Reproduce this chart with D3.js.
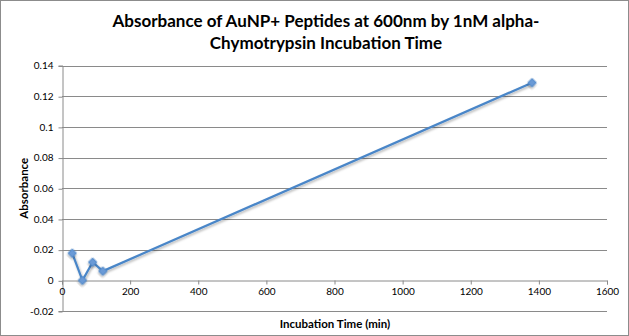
<!DOCTYPE html>
<html><head><meta charset="utf-8">
<script src="https://cdn.jsdelivr.net/npm/d3@7"></script>
<style>body{margin:0;background:#fff;} svg{display:block;}</style>
</head><body>
<svg id="c" width="629" height="336"></svg>
<script>
const incubationTime = [30, 60, 90, 120, 1380];
const absorbance = [0.0177, 0.0, 0.0118, 0.006, 0.1288];
const xTicks = [0, 200, 400, 600, 800, 1000, 1200, 1400, 1600];
const yTicks = [-0.02, 0, 0.02, 0.04, 0.06, 0.08, 0.1, 0.12, 0.14];
const titleLines = ["Absorbance of AuNP+ Peptides at 600nm by 1nM alpha-", "Chymotrypsin Incubation Time"];
const xTitle = "Incubation Time (min)";
const yTitle = "Absorbance";

const svg = d3.select("#c");
const font = "Lato, 'Open Sans', sans-serif";
const m = {left: 62, right: 607, top: 65.5, bottom: 311};
const x = d3.scaleLinear().domain([0, 1600]).range([m.left, m.right]);
const y = d3.scaleLinear().domain([-0.02, 0.14]).range([m.bottom, m.top]);

svg.append("rect").attr("x",0.5).attr("y",0.5).attr("width",628).attr("height",335)
  .attr("fill","#fff").attr("stroke","#8c8c8c");

// gridlines
svg.append("g").selectAll("line").data(yTicks.filter(d=>d!==0)).join("line")
  .attr("x1", m.left).attr("x2", m.right)
  .attr("y1", d=>Math.round(y(d))+0.5).attr("y2", d=>Math.round(y(d))+0.5)
  .attr("stroke","#8a8a8a").attr("stroke-width",1);

// y axis
const yAxis = d3.axisLeft(y).tickValues(yTicks).tickSize(4).tickPadding(5)
  .tickFormat(d => d===0 ? "0" : String(+d.toFixed(2)));
const gy = svg.append("g").attr("transform", `translate(${m.left+0.5},0)`).call(yAxis);
gy.select(".domain").attr("stroke","#8a8a8a");
gy.selectAll(".tick line").attr("stroke","#8a8a8a").attr("transform","translate(0,0.5)");
gy.selectAll(".tick text").attr("font-family",font).attr("font-size",10).attr("fill","#000");

// x axis at y=0
const xAxis = d3.axisBottom(x).tickValues(xTicks).tickSize(4).tickPadding(3).tickFormat(d3.format("d"));
const gx = svg.append("g").attr("transform", `translate(0,${Math.round(y(0))+0.5})`).call(xAxis);
gx.select(".domain").attr("stroke","#8a8a8a");
gx.selectAll(".tick line").attr("stroke","#8a8a8a");
gx.selectAll(".tick text").attr("font-family",font).attr("font-size",10).attr("fill","#000");

// title
svg.append("g").selectAll("text").data(titleLines).join("text")
  .attr("x", 326).attr("y", (d,i)=>27 + i*22).attr("text-anchor","middle")
  .attr("font-family",font).attr("font-weight","bold").attr("font-size",17).attr("fill","#000")
  .text(d=>d);

svg.append("text").attr("x", 335).attr("y", 328).attr("text-anchor","middle")
  .attr("font-family",font).attr("font-weight","bold").attr("font-size",11.5).text(xTitle);
svg.append("text").attr("transform", `translate(28,${(m.top+m.bottom)/2}) rotate(-90)`)
  .attr("text-anchor","middle")
  .attr("font-family",font).attr("font-weight","bold").attr("font-size",11.5).text(yTitle);

// data
const data = incubationTime.map((t,i)=>({t, a: absorbance[i]}));
const defs = svg.append("defs");
const f = defs.append("filter").attr("id","sh").attr("x","-50%").attr("y","-50%").attr("width","200%").attr("height","200%");
f.append("feDropShadow").attr("dx",1).attr("dy",1.5).attr("stdDeviation",1).attr("flood-color","#000").attr("flood-opacity",0.3);

svg.append("path").datum(data)
  .attr("d", d3.line().x(d=>x(d.t)).y(d=>y(d.a)))
  .attr("fill","none").attr("stroke","#4a86c8").attr("stroke-width",2.2).attr("filter","url(#sh)");
svg.append("g").selectAll("path").data(data).join("path")
  .attr("d", d3.symbol().type(d3.symbolSquare).size(36))
  .attr("transform", d=>`translate(${x(d.t)},${y(d.a)}) rotate(45)`)
  .attr("fill","#6a9ad6").attr("stroke","#4a86c8").attr("stroke-width",0.8).attr("filter","url(#sh)");
</script>
</body></html>
